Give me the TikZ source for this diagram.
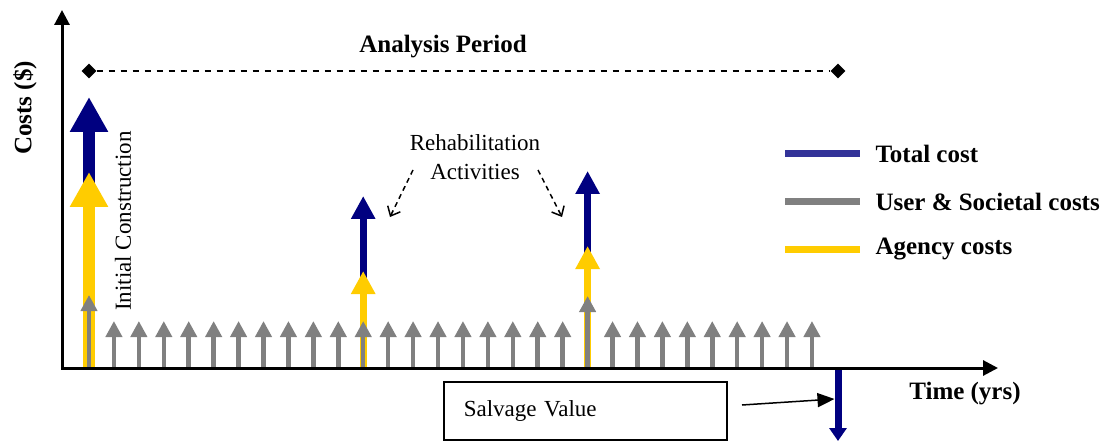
\documentclass[tikz,border=0pt]{standalone}
\usepackage{fontspec}
\setmainfont{Liberation Serif}
\usetikzlibrary{arrows.meta,shapes.geometric}
\definecolor{navyc}{RGB}{0,0,128}
\definecolor{goldc}{RGB}{255,204,0}
\definecolor{grayc}{RGB}{128,128,128}
\definecolor{legblue}{RGB}{51,51,153}
\begin{document}
\begin{tikzpicture}[x=1pt,y=-1pt,
  axisline/.style={line width=3pt,line cap=rect,-{Triangle[width=15pt,length=15pt]}},
  bigblue/.style={navyc,line width=12pt,-{Triangle[width=36pt,length=35pt]}},
  bigyel/.style={goldc,line width=12pt,-{Triangle[width=36pt,length=35pt]}},
  midblue/.style={navyc,line width=7pt,-{Triangle[width=23pt,length=23pt]}},
  midyel/.style={goldc,line width=7pt,-{Triangle[width=23pt,length=23pt]}},
  grayarrow/.style={grayc,line width=4.5pt,-{Triangle[width=16pt,length=16pt]}},
  boldlabel/.style={font=\fontsize{25}{30}\selectfont\bfseries},
  plainlabel/.style={font=\fontsize{23}{29}\selectfont},
  diamondmark/.style={diamond,fill=black,inner sep=0pt,minimum size=15pt},
  legline/.style={line width=7pt},
  pointer/.style={black,line width=1.5pt,dash pattern=on 5pt off 4pt,-{Straight Barb[length=8pt,width=14pt]}}
]
\useasboundingbox (0,0) rectangle (1112,441);

% axes coordinates
\coordinate (O) at (62,368);
\coordinate (ytop) at (62,10);
\coordinate (xend) at (998,368);

% initial construction
\coordinate (icbase) at (89,368);
\coordinate (icB) at (89,97);
\coordinate (icY) at (89,172);
\draw[bigblue] (icbase) -- (icB);
\draw[bigyel] (icbase) -- (icY);

% rehabilitation 1 and 2
\coordinate (r1base) at (363.2,368);
\coordinate (r1B) at (363.2,196);
\coordinate (r1Y) at (363.2,271);
\draw[midblue] (r1base) -- (r1B);
\draw[midyel] (r1base) -- (r1Y);
\coordinate (r2base) at (587.6,368);
\coordinate (r2B) at (587.6,171);
\coordinate (r2Y) at (587.6,246);
\draw[midblue] (r2base) -- (r2B);
\draw[midyel] (r2base) -- (r2Y);

% user & societal cost arrows
\foreach \k in {0,...,29}{
  \pgfmathsetmacro{\xx}{89+24.93*\k}
  \ifnum\k=0 \def\tp{295}\else\ifnum\k=20 \def\tp{296}\else\def\tp{321}\fi\fi
  \coordinate (gb\k) at (\xx,368);
  \coordinate (gt\k) at (\xx,\tp);
  \draw[grayarrow] (gb\k) -- (gt\k);
}

% salvage value
\coordinate (sbase) at (838,368);
\coordinate (stip) at (838,441);
\draw[navyc,line width=7pt,-{Triangle[width=17pt,length=13pt]}] (sbase) -- (stip);

% axes
\draw[axisline] (O) -- (ytop);
\draw[axisline] (O) -- (xend);

% analysis period
\node[diamondmark] (dl) at (89,71) {};
\node[diamondmark] (dr) at (838,71) {};
\draw[line width=2pt,dash pattern=on 6pt off 6pt] (dl) -- (dr);
\node[boldlabel] (ap) at (443,47) {Analysis Period};

% axis labels
\node[boldlabel,rotate=90] (cl) at (25,108) {Costs (\$)};
\node[boldlabel] (tl) at (965,394) {Time (yrs)};

% initial construction label
\node[plainlabel,rotate=90] (icl) at (123,221) {Initial Construction};

% rehabilitation label
\node[plainlabel,align=center] (rl) at (475,157) {Rehabilitation\\Activities};
\coordinate (p1s) at (413,170);
\coordinate (p1e) at (390,217);
\coordinate (p2s) at (538,170);
\coordinate (p2e) at (562,217);
\draw[pointer] (p1s) -- (p1e);
\draw[pointer] (p2s) -- (p2e);

% salvage box
\node[draw,line width=1.5pt,minimum width=283pt,minimum height=58pt,text width=243pt,inner xsep=20pt,align=left,anchor=north west,plainlabel] (sv) at (443,381) {Salvage Value};
\coordinate (svs) at (742,405);
\coordinate (svt) at (834.5,399);
\draw[line width=1.5pt,-{Triangle[width=14pt,length=17pt]}] (svs) -- (svt);

% legend
\coordinate (l1a) at (785,154); \coordinate (l1b) at (860,154);
\coordinate (l2a) at (785,202); \coordinate (l2b) at (860,202);
\coordinate (l3a) at (785,249); \coordinate (l3b) at (860,249);
\draw[legline,legblue] (l1a) -- (l1b);
\draw[legline,grayc] (l2a) -- (l2b);
\draw[legline,goldc] (l3a) -- (l3b);
\node[boldlabel,anchor=west] (t1) at (872,154) {Total cost};
\node[boldlabel,anchor=west] (t2) at (872,202) {User \& Societal costs};
\node[boldlabel,anchor=west] (t3) at (872,249) {Agency costs};
\end{tikzpicture}
\end{document}
